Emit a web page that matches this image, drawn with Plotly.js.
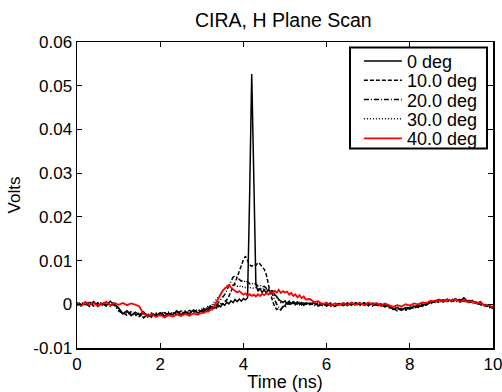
<!DOCTYPE html>
<html>
<head>
<meta charset="utf-8">
<script src="https://cdn.plot.ly/plotly-3.0.1.min.js"></script>
<style>html,body{margin:0;padding:0;background:#fff;}#chart{width:502px;height:392px;}</style>
</head>
<body>
<div id="chart"></div>
<script>
// Sample times (ns)
const timeNs = [
  0.0,0.1,0.2,0.3,0.4,0.5,0.6,0.7,0.8,0.9,
  1.0,1.1,1.2,1.3,1.4,1.5,1.6,1.7,1.8,1.9,
  2.0,2.1,2.2,2.3,2.4,2.5,2.6,2.7,2.8,2.9,
  3.0,
  3.05,3.10,3.15,3.20,3.25,3.30,3.35,3.40,3.45,3.50,
  3.55,3.60,3.65,3.70,3.75,3.80,3.85,3.90,3.95,4.00,
  4.05,4.10,4.15,4.20,4.25,4.30,4.35,4.40,4.45,4.50,
  4.55,4.60,4.65,4.70,4.75,4.80,4.85,4.90,4.95,5.00,
  5.05,5.10,5.15,5.20,5.25,5.30,5.35,5.40,5.45,5.50,
  5.6,5.7,5.8,5.9,6.0,6.1,6.2,6.3,6.4,6.5,
  6.6,6.7,6.8,6.9,7.0,7.1,7.2,7.3,7.4,7.5,
  7.6,7.7,7.8,7.9,8.0,8.1,8.2,8.3,8.4,8.5,
  8.6,8.7,8.8,8.9,9.0,9.1,9.2,9.3,9.4,9.5,
  9.6,9.7,9.8,9.9,10.0
];

const seriesNames = ["0 deg", "10.0 deg", "20.0 deg", "30.0 deg", "40.0 deg"];

const volts0 = [
  0.0003,-0.0004,0.0005,-0.0002,0.0006,-0.0005,0.0002,-0.0003,0.0007,-0.0001,
  -0.0008,-0.0022,-0.0015,-0.0026,-0.0018,-0.0024,-0.0017,-0.0029,-0.0021,-0.0026,
  -0.0019,-0.0027,-0.0020,-0.0024,-0.0016,-0.0025,-0.0018,-0.0022,-0.0013,-0.0020,
  -0.0014,
  -0.0018,-0.0011,-0.0015,-0.0008,-0.0012,-0.0005,-0.0009,-0.0002,-0.0006,0.0001,
  -0.0002,0.0005,0.0001,0.0008,0.0004,0.0011,0.0006,0.0012,0.0007,0.0013,
  0.0010,0.0015,0.0250,0.0527,0.0290,0.0045,0.0030,0.0036,0.0027,0.0033,
  0.0026,0.0034,0.0028,0.0031,0.0022,0.0018,0.0011,0.0007,0.0004,0.0008,
  0.0002,0.0007,0.0001,0.0006,-0.0001,0.0005,0.0000,0.0004,-0.0002,0.0003,
  0.0001,0.0004,-0.0003,0.0002,-0.0004,0.0001,-0.0005,0.0002,-0.0003,0.0003,
  -0.0002,0.0004,-0.0001,0.0003,-0.0003,0.0002,-0.0002,0.0001,-0.0006,-0.0003,
  -0.0012,-0.0007,-0.0014,-0.0008,-0.0011,-0.0004,-0.0007,0.0000,-0.0002,0.0006,
  0.0004,0.0011,0.0006,0.0012,0.0007,0.0013,0.0006,0.0015,0.0005,0.0009,
  0.0002,0.0006,-0.0004,-0.0002,-0.0010
];

const volts10 = [
  -0.0002,0.0005,-0.0003,0.0004,-0.0004,0.0003,-0.0001,0.0006,-0.0003,0.0002,
  -0.0012,-0.0019,-0.0025,-0.0017,-0.0023,-0.0028,-0.0020,-0.0025,-0.0030,-0.0022,
  -0.0026,-0.0019,-0.0025,-0.0018,-0.0023,-0.0015,-0.0021,-0.0014,-0.0019,-0.0012,
  -0.0017,
  -0.0011,-0.0015,-0.0009,-0.0012,-0.0006,-0.0009,-0.0003,-0.0005,0.0001,0.0000,
  0.0006,0.0010,0.0018,0.0028,0.0038,0.0050,0.0062,0.0075,0.0090,0.0102,
  0.0110,0.0098,0.0090,0.0087,0.0091,0.0089,0.0095,0.0092,0.0085,0.0080,
  0.0068,0.0045,0.0025,0.0008,-0.0005,-0.0012,-0.0009,-0.0013,-0.0006,-0.0003,
  0.0004,0.0000,0.0006,0.0002,0.0007,0.0001,0.0005,-0.0001,0.0004,0.0000,
  0.0003,-0.0002,0.0004,-0.0003,0.0001,-0.0004,0.0003,-0.0002,0.0002,-0.0003,
  0.0003,-0.0001,0.0004,-0.0002,0.0002,-0.0004,0.0001,-0.0003,-0.0001,-0.0008,
  -0.0009,-0.0015,-0.0010,-0.0013,-0.0006,-0.0010,-0.0003,-0.0005,0.0003,0.0001,
  0.0009,0.0005,0.0010,0.0006,0.0012,0.0008,0.0011,0.0007,0.0010,0.0004,
  0.0005,-0.0001,0.0001,-0.0007,-0.0005
];

const volts20 = [
  0.0004,-0.0001,0.0002,-0.0005,0.0003,0.0000,0.0005,-0.0004,0.0001,-0.0002,
  -0.0015,-0.0021,-0.0016,-0.0022,-0.0027,-0.0019,-0.0031,-0.0023,-0.0027,-0.0020,
  -0.0023,-0.0017,-0.0026,-0.0020,-0.0015,-0.0022,-0.0017,-0.0020,-0.0014,-0.0018,
  -0.0011,
  -0.0014,-0.0007,-0.0010,-0.0004,-0.0006,0.0000,-0.0002,0.0004,0.0008,0.0014,
  0.0022,0.0032,0.0042,0.0053,0.0062,0.0065,0.0060,0.0057,0.0053,0.0055,
  0.0050,0.0052,0.0047,0.0049,0.0045,0.0047,0.0042,0.0044,0.0040,0.0041,
  0.0037,0.0034,0.0030,0.0022,0.0010,0.0000,-0.0007,-0.0011,-0.0005,-0.0008,
  -0.0002,0.0003,-0.0001,0.0004,0.0000,0.0005,-0.0001,0.0003,-0.0002,0.0004,
  -0.0001,0.0003,-0.0004,0.0001,-0.0002,0.0003,-0.0004,0.0000,-0.0003,0.0002,
  -0.0002,0.0002,-0.0003,0.0004,-0.0001,0.0002,-0.0004,0.0000,-0.0005,-0.0004,
  -0.0011,-0.0008,-0.0013,-0.0006,-0.0009,-0.0002,-0.0005,0.0002,-0.0001,0.0005,
  0.0007,0.0012,0.0005,0.0010,0.0006,0.0011,0.0005,0.0009,0.0003,0.0007,
  0.0000,0.0003,-0.0005,-0.0003,-0.0009
];

const volts30 = [
  -0.0003,0.0002,-0.0001,0.0006,-0.0002,0.0004,-0.0003,0.0002,-0.0005,0.0003,
  -0.0010,-0.0023,-0.0019,-0.0024,-0.0020,-0.0026,-0.0022,-0.0024,-0.0019,-0.0028,
  -0.0021,-0.0024,-0.0018,-0.0022,-0.0019,-0.0021,-0.0015,-0.0019,-0.0016,-0.0013,
  -0.0016,
  -0.0009,-0.0012,-0.0005,-0.0007,-0.0001,0.0004,0.0009,0.0016,0.0023,0.0030,
  0.0036,0.0041,0.0044,0.0046,0.0043,0.0045,0.0041,0.0043,0.0039,0.0041,
  0.0038,0.0040,0.0037,0.0039,0.0036,0.0038,0.0035,0.0037,0.0033,0.0036,
  0.0034,0.0031,0.0033,0.0027,0.0021,0.0014,0.0008,0.0004,0.0006,0.0002,
  0.0005,0.0001,0.0006,0.0002,0.0005,0.0000,0.0004,-0.0001,0.0003,0.0000,
  0.0002,-0.0003,0.0003,-0.0002,0.0000,-0.0005,0.0002,-0.0002,0.0003,-0.0001,
  0.0002,-0.0003,0.0003,0.0000,-0.0004,0.0003,-0.0001,-0.0005,0.0000,-0.0006,
  -0.0008,-0.0012,-0.0009,-0.0014,-0.0007,-0.0008,-0.0001,-0.0004,0.0004,0.0002,
  0.0008,0.0004,0.0011,0.0007,0.0009,0.0005,0.0010,0.0006,0.0008,0.0002,
  0.0003,-0.0002,-0.0002,-0.0008,-0.0007
];

const volts40 = [
  0.0002,-0.0003,0.0004,-0.0001,0.0003,-0.0004,0.0001,0.0005,-0.0002,0.0003,
  -0.0001,0.0003,-0.0002,0.0002,-0.0001,-0.0005,-0.0022,-0.0027,-0.0023,-0.0029,
  -0.0024,-0.0030,-0.0025,-0.0028,-0.0023,-0.0027,-0.0022,-0.0026,-0.0021,-0.0024,
  -0.0019,
  -0.0020,-0.0016,-0.0017,-0.0013,-0.0011,-0.0004,0.0005,0.0014,0.0024,0.0031,
  0.0036,0.0041,0.0044,0.0038,0.0034,0.0030,0.0027,0.0030,0.0025,0.0022,
  0.0025,0.0020,0.0023,0.0019,0.0022,0.0018,0.0023,0.0019,0.0024,0.0021,
  0.0025,0.0022,0.0028,0.0025,0.0031,0.0027,0.0033,0.0026,0.0030,0.0027,
  0.0029,0.0022,0.0026,0.0019,0.0023,0.0016,0.0021,0.0014,0.0018,0.0011,
  0.0012,0.0005,0.0007,0.0000,0.0004,-0.0003,0.0002,-0.0002,0.0003,-0.0001,
  0.0004,-0.0001,0.0003,-0.0002,0.0004,0.0000,0.0003,-0.0003,0.0002,-0.0002,
  -0.0006,-0.0002,-0.0005,0.0000,-0.0003,0.0002,0.0000,0.0004,0.0003,0.0008,
  0.0006,0.0010,0.0007,0.0011,0.0008,0.0012,0.0006,0.0009,0.0005,0.0007,
  0.0002,0.0004,-0.0003,-0.0001,-0.0008
];

const xTickVals = [0, 2, 4, 6, 8, 10];
const yTickVals = [-0.01, 0, 0.01, 0.02, 0.03, 0.04, 0.05, 0.06];
const yTickText = ["-0.01", "0", "0.01", "0.02", "0.03", "0.04", "0.05", "0.06"];

const seriesValues = [volts0, volts10, volts20, volts30, volts40];
const styles = [
  {color: "#000000", dash: "solid", width: 1.5},
  {color: "#000000", dash: "4px,2px", width: 1.5},
  {color: "#000000", dash: "5px,2px,1px,2px", width: 1.5},
  {color: "#000000", dash: "1px,2px", width: 1.5},
  {color: "#ff0000", dash: "solid", width: 1.8}
];
const legendIds = ["legend", "legend2", "legend3", "legend4", "legend5"];

const traces = seriesValues.map((vals, i) => ({
  x: timeNs,
  y: vals,
  type: "scatter",
  mode: "lines",
  name: seriesNames[i],
  line: styles[i],
  legend: legendIds[i]
}));

const FAM = "Arial, 'Liberation Sans', sans-serif";
const font = {family: FAM, size: 17, color: "#000"};

// one legend row per trace, stacked inside a boxed frame
const rowY = [0.9371, 0.8741, 0.8112, 0.7478, 0.6839];
const legendCommon = (y) => ({
  x: 0.6776, xanchor: "left", y: y, yanchor: "middle",
  bgcolor: "rgba(0,0,0,0)", borderwidth: 0,
  font: {family: FAM, size: 18, color: "#000"},
  itemwidth: 38
});

const layout = {
  width: 502,
  height: 392,
  margin: {l: 77, r: 9, t: 42, b: 44, pad: 0},
  paper_bgcolor: "#fff",
  plot_bgcolor: "#fff",
  font: font,
  title: {text: "CIRA, H Plane Scan", font: {family: FAM, size: 19.5, color: "#000"}, x: 0.5645, xanchor: "center", y: 0.949, yanchor: "middle"},
  showlegend: true,
  legend: legendCommon(rowY[0]),
  legend2: legendCommon(rowY[1]),
  legend3: legendCommon(rowY[2]),
  legend4: legendCommon(rowY[3]),
  legend5: legendCommon(rowY[4]),
  shapes: [{
    type: "rect", xref: "paper", yref: "paper", layer: "above",
    x0: 0.65625, x1: 0.98558, y0: 0.6523, y1: 0.9817,
    line: {color: "#000", width: 2}, fillcolor: "#fff"
  }],
  xaxis: {
    range: [0, 10], tickvals: xTickVals, ticktext: xTickVals.map(String),
    ticks: "inside", ticklen: 5, tickcolor: "#000", tickwidth: 1,
    showline: true, linecolor: "#000", linewidth: 1.5, mirror: "ticks",
    showgrid: false, zeroline: false, ticklabeloverflow: "allow",
    tickfont: {family: FAM, size: 17, color: "#000"},
    title: {text: "Time (ns)", font: {family: FAM, size: 18, color: "#000"}, standoff: 0}
  },
  yaxis: {
    range: [-0.01, 0.06], tickvals: yTickVals, ticktext: yTickText,
    ticks: "inside", ticklen: 5, tickcolor: "#000", tickwidth: 1,
    showline: true, linecolor: "#000", linewidth: 1.5, mirror: "ticks",
    showgrid: false, zeroline: false,
    tickfont: {family: FAM, size: 17, color: "#000"},
    title: {text: "Volts", font: {family: FAM, size: 17, color: "#000"}, standoff: 8}
  }
};

Plotly.newPlot("chart", traces, layout, {staticPlot: true, displayModeBar: false});
</script>
</body>
</html>
